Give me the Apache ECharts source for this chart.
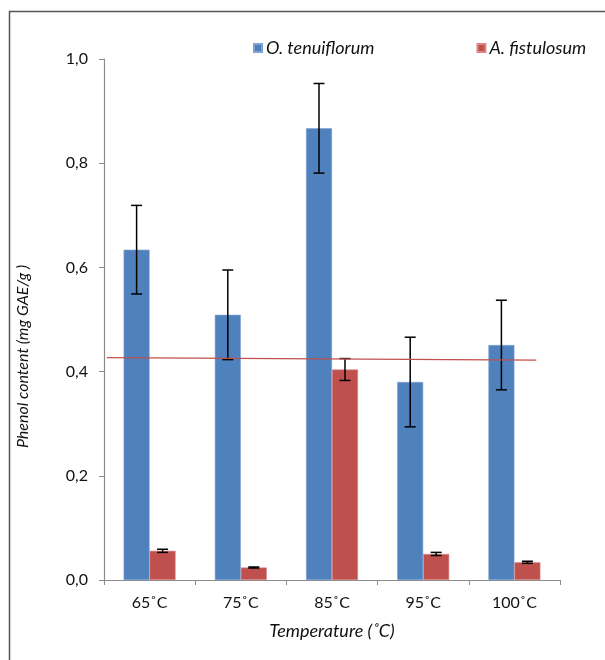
<!DOCTYPE html>
<html><head><meta charset="utf-8">
<script src="https://cdn.jsdelivr.net/npm/echarts@6/dist/echarts.min.js"></script>
<style>html,body{margin:0;padding:0;background:#fff}#c{width:605px;height:660px}</style>
</head><body><div id="c"></div>
<script>
const categories = ['65˚C','75˚C','85˚C','95˚C','100˚C'];
const seriesNames = ['O. tenuiflorum','A. fistulosum'];
const tenuiflorum = [0.634, 0.509, 0.867, 0.380, 0.451];
const tenuiflorumErr = [0.085, 0.086, 0.086, 0.086, 0.086];
const fistulosum = [0.056, 0.024, 0.404, 0.050, 0.034];
const fistulosumErr = [0.003, 0.001, 0.021, 0.003, 0.002];
const trendline = [[0.03, 0.427], [4.74, 0.422]];
const yTicks = [0, 0.2, 0.4, 0.6, 0.8, 1.0];

const FONT = 'Lato';
const BLUE = '#4F81BD', RED = '#C0504D';
const BAR_FRAC = 0.285;

const chart = echarts.init(document.getElementById('c'));

function errSeries(vals, errs, side) {
  return {
    type: 'custom', xAxisIndex: 0, yAxisIndex: 0, z: 5,
    data: vals.map((v, i) => [i, v, errs[i]]),
    renderItem: function (params, api) {
      const i = api.value(0), v = api.value(1), e = api.value(2);
      const band = api.size([1, 0])[0];
      const off = side * band * BAR_FRAC / 2;
      const top = api.coord([i, v + e]);
      const bot = api.coord([i, v - e]);
      const x = top[0] + off;
      const cap = 5.5;
      const st = { stroke: '#000', lineWidth: 1.5 };
      return { type: 'group', children: [
        { type: 'line', shape: { x1: x, y1: top[1], x2: x, y2: bot[1] }, style: st },
        { type: 'line', shape: { x1: x - cap, y1: top[1], x2: x + cap, y2: top[1] }, style: st },
        { type: 'line', shape: { x1: x - cap, y1: bot[1], x2: x + cap, y2: bot[1] }, style: st }
      ]};
    },
    silent: true
  };
}

chart.setOption({
  animation: false,
  textStyle: { fontFamily: FONT },
  graphic: [{
    type: 'rect', left: 7, top: 9, silent: true,
    shape: { width: 700, height: 700 },
    style: { fill: 'none', stroke: '#555', lineWidth: 1.5 }
  }],
  legend: {
    data: seriesNames, left: 253, top: 39, padding: 0, itemWidth: 8, itemHeight: 8, itemGap: 102,
    icon: 'rect',
    textStyle: { fontFamily: FONT, fontStyle: 'italic', fontSize: 18, color: '#111', padding: [0, 0, 0, -1] }
  },
  grid: { left: 104, right: 45, top: 59, bottom: 80, containLabel: false },
  xAxis: [{
    type: 'category', data: categories,
    axisLine: { lineStyle: { color: '#8c8c8c', width: 1.2 } },
    axisTick: { show: true, alignWithLabel: false, length: 5, lineStyle: { color: '#8c8c8c' } },
    axisLabel: { color: '#111', fontSize: 16, margin: 15, fontFamily: FONT },
    name: 'Temperature (˚C)', nameLocation: 'middle', nameGap: 42,
    nameTextStyle: { fontStyle: 'italic', fontSize: 18, color: '#111', fontFamily: FONT }
  }, {
    type: 'value', min: 0, max: 5, show: false
  }],
  yAxis: {
    type: 'value', min: 0, max: 1, interval: 0.2,
    axisLine: { show: true, lineStyle: { color: '#8c8c8c', width: 1.2 } },
    axisTick: { show: true, length: 5, lineStyle: { color: '#8c8c8c' } },
    splitLine: { show: false },
    axisLabel: { color: '#111', fontSize: 16, margin: 16, fontFamily: FONT,
      formatter: v => v.toFixed(1).replace('.', ',') },
    name: 'Phenol content (mg GAE/g )', nameLocation: 'middle', nameGap: 73,
    nameTextStyle: { fontStyle: 'italic', fontSize: 16, color: '#111', fontFamily: FONT, padding: [0, 74, 0, 0] }
  },
  series: [
    { name: seriesNames[0], type: 'bar', data: tenuiflorum, barWidth: (BAR_FRAC * 100) + '%', barGap: '0%',
      itemStyle: { color: BLUE, borderColor: '#7fa3d3', borderWidth: 0.6 } },
    { name: seriesNames[1], type: 'bar', data: fistulosum, barWidth: (BAR_FRAC * 100) + '%', barGap: '0%',
      itemStyle: { color: RED, borderColor: '#d98886', borderWidth: 0.6 } },
    errSeries(tenuiflorum, tenuiflorumErr, -1),
    errSeries(fistulosum, fistulosumErr, 1),
    { type: 'line', xAxisIndex: 1, yAxisIndex: 0, data: trendline, symbol: 'none', z: 6,
      lineStyle: { color: RED, width: 1.3 }, silent: true }
  ]
});
</script>
</body></html>
